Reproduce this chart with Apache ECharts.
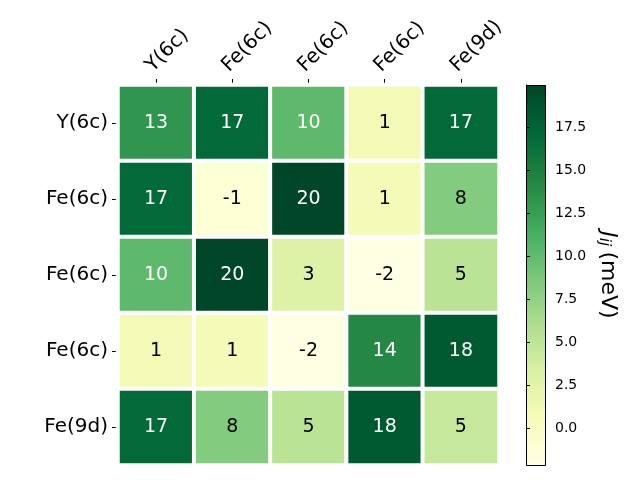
<!DOCTYPE html>
<html>
<head>
<meta charset="utf-8">
<script src="https://cdn.jsdelivr.net/npm/echarts@6/dist/echarts.min.js"></script>
<style>
  html, body { margin: 0; padding: 0; background: #fff; }
  #chart { width: 640px; height: 480px; }
</style>
</head>
<body>
<div id="chart"></div>
<script>
// site labels (columns and rows share the same list)
var sites = ['Y(6c)', 'Fe(6c)', 'Fe(6c)', 'Fe(6c)', 'Fe(9d)'];

// exchange matrix J_ij in meV, one array per row
var row0 = [13.2, 17.0, 10.2, 1.0, 17.0];
var row1 = [17.0, -1.0, 19.9, 0.9, 8.3];
var row2 = [10.2, 19.9, 3.0, -2.1, 5.3];
var row3 = [1.0, 0.9, -2.1, 14.2, 18.3];
var row4 = [17.0, 8.3, 5.3, 18.3, 4.6];
var rows = [row0, row1, row2, row3, row4];

// colour bar range and ticks
var cbMin = -2.15;
var cbMax = 19.94;
var cbTicks = [0, 2.5, 5, 7.5, 10, 12.5, 15, 17.5];

// matplotlib YlGn
var ylgn = ['#ffffe5', '#f7fcb9', '#d9f0a3', '#addd8e', '#78c679',
            '#41ab5d', '#238443', '#006837', '#004529'];

var font = 'DejaVu Sans';
var mid = (cbMin + cbMax) / 2;

// build heatmap items, text colour switches at the middle of the scale
var cells = [];
for (var i = 0; i < rows.length; i++) {
    for (var j = 0; j < rows[i].length; j++) {
        var v = rows[i][j];
        cells.push({
            value: [j, i, v],
            label: { color: v > mid ? '#ffffff' : '#000000' }
        });
    }
}

// gradient stops for the colour bar (top = max)
var stops = [];
for (var k = 0; k < ylgn.length; k++) {
    stops.push({ offset: 1 - k / (ylgn.length - 1), color: ylgn[k] });
}

var chart = echarts.init(document.getElementById('chart'));

chart.setOption({
    backgroundColor: '#ffffff',
    animation: false,
    grid: [
        { left: 118, top: 85, width: 381, height: 380 },
        { left: 526, top: 85, width: 19, height: 380 }
    ],
    xAxis: [
        {
            type: 'category',
            data: sites,
            position: 'top',
            gridIndex: 0,
            axisLine: { show: false },
            axisTick: { show: true, alignWithLabel: true, length: 6,
                        lineStyle: { color: '#000', width: 1 } },
            axisLabel: { rotate: -45, fontSize: 20, fontFamily: font,
                         color: '#000', margin: 9, interval: 0,
                         verticalAlign: 'bottom' },
            splitLine: { show: false }
        },
        {
            type: 'value',
            gridIndex: 1,
            min: 0, max: 1,
            show: false
        }
    ],
    yAxis: [
        {
            type: 'category',
            data: sites,
            inverse: true,
            gridIndex: 0,
            axisLine: { show: false },
            axisTick: { show: true, alignWithLabel: true, length: 6,
                        lineStyle: { color: '#000', width: 1 } },
            axisLabel: { fontSize: 20, fontFamily: font, color: '#000',
                         margin: 10, interval: 0 },
            splitLine: { show: false }
        },
        {
            type: 'value',
            gridIndex: 1,
            position: 'right',
            min: cbMin,
            max: cbMax,
            axisLine: { show: true, lineStyle: { color: '#000', width: 1 } },
            axisTick: { show: true, length: 4, customValues: cbTicks,
                        lineStyle: { color: '#000' } },
            axisLabel: {
                fontSize: 14, fontFamily: font, color: '#000', margin: 10,
                customValues: cbTicks,
                formatter: function (v) { return v.toFixed(1); }
            },
            splitLine: { show: false },
            name: '{j|J}{s|ij} {n|(meV)}',
            nameLocation: 'middle',
            nameRotate: -90,
            nameGap: 51,
            nameTextStyle: {
                rich: {
                    j: { fontSize: 22, fontFamily: font, fontStyle: 'italic', color: '#000' },
                    s: { fontSize: 15, fontFamily: font, fontStyle: 'italic', color: '#000',
                         verticalAlign: 'bottom', padding: [9, 2, 0, 0] },
                    n: { fontSize: 22, fontFamily: font, color: '#000' }
                }
            }
        }
    ],
    visualMap: {
        show: false,
        min: cbMin,
        max: cbMax,
        dimension: 2,
        seriesIndex: 0,
        inRange: { color: ylgn }
    },
    series: [
        {
            type: 'heatmap',
            xAxisIndex: 0,
            yAxisIndex: 0,
            data: cells,
            itemStyle: { borderColor: '#ffffff', borderWidth: 4 },
            label: {
                show: true,
                fontSize: 19,
                fontFamily: font,
                formatter: function (p) { return String(Math.round(p.value[2])); }
            },
            emphasis: { disabled: true }
        }
    ],
    graphic: [
        {
            type: 'rect',
            left: 526,
            top: 85,
            shape: { width: 19, height: 380 },
            style: {
                fill: new echarts.graphic.LinearGradient(0, 0, 0, 1, stops),
                stroke: '#000',
                lineWidth: 1
            },
            z: -1
        }
    ]
});
</script>
</body>
</html>
